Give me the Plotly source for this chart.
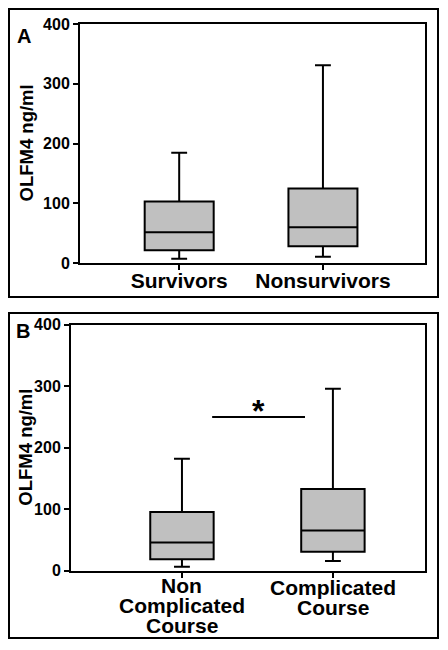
import plotly.graph_objects as go

# Panel A data
groups_a = ["Survivors", "Nonsurvivors"]
a_lower = [7, 10.5]
a_q1 = [21.5, 28]
a_median = [51.5, 60]
a_q3 = [103, 124.5]
a_upper = [184.5, 331]

# Panel B data
groups_b = ["Non Complicated Course", "Complicated Course"]
b_label_lines = [["Non", "Complicated", "Course"], ["Complicated", "Course"]]
b_lower = [6.5, 15.8]
b_q1 = [18.5, 31]
b_median = [46, 65.5]
b_q3 = [95.4, 133]
b_upper = [182, 296]
sig_level = 250
sig_from_to = [0.2, 0.815]

y_ticks = [0, 100, 200, 300, 400]
y_title = "OLFM4 ng/ml"

# page body adds an 8px margin; size the figure so the page is exactly 448x650
OFF = 8
W, H = 448 - 2 * OFF, 650 - 2 * OFF
FONT = "Liberation Sans, Arial, sans-serif"
fill = "#c0c0c0"

fig = go.Figure()

for i, g in enumerate(groups_a):
    fig.add_trace(go.Box(
        x=[g], q1=[a_q1[i]], median=[a_median[i]], q3=[a_q3[i]],
        lowerfence=[a_lower[i]], upperfence=[a_upper[i]],
        fillcolor=fill, line=dict(color="black", width=2),
        width=0.48, whiskerwidth=0.23, boxpoints=False,
        xaxis="x", yaxis="y", showlegend=False, hoverinfo="skip"))

for i, g in enumerate(groups_b):
    fig.add_trace(go.Box(
        x=[g], q1=[b_q1[i]], median=[b_median[i]], q3=[b_q3[i]],
        lowerfence=[b_lower[i]], upperfence=[b_upper[i]],
        fillcolor=fill, line=dict(color="black", width=2),
        width=0.42, whiskerwidth=0.25, boxpoints=False,
        xaxis="x2", yaxis="y2", showlegend=False, hoverinfo="skip"))

def px_x(p):
    return (p - OFF) / W

def px_y(p):
    return 1 - (p - OFF) / H

axis_common = dict(showline=True, linecolor="black", linewidth=2, mirror=True,
                   showgrid=False, zeroline=False, ticks="outside",
                   ticklen=5, tickwidth=2, tickcolor="black", automargin=False)

fig.update_layout(
    template="none",
    width=W, height=H,
    margin=dict(l=0, r=0, t=0, b=0, pad=0, autoexpand=False),
    paper_bgcolor="white", plot_bgcolor="white",
    font=dict(family=FONT, color="black"),
    xaxis=dict(domain=[px_x(80), px_x(425)], anchor="y", type="category",
               categoryorder="array", categoryarray=groups_a,
               range=[-0.69, 1.71], ticklabelstandoff=-7,
               tickfont=dict(size=21, weight="bold", family=FONT), **axis_common),
    yaxis=dict(domain=[px_y(263), px_y(24)], anchor="x", range=[0, 400],
               tickvals=y_ticks,
               tickfont=dict(size=16, weight="bold", family=FONT), **axis_common),
    xaxis2=dict(domain=[px_x(71), px_x(425)], anchor="y2", type="category",
                categoryorder="array", categoryarray=groups_b,
                range=[-0.735, 1.61], showticklabels=False, **axis_common),
    yaxis2=dict(domain=[px_y(570.7), px_y(324.7)], anchor="x2", range=[0, 400],
                tickvals=y_ticks,
                tickfont=dict(size=16, weight="bold", family=FONT), **axis_common),
)

shapes = [
    dict(type="rect", xref="paper", yref="paper", x0=px_x(9), x1=px_x(438),
         y0=px_y(297), y1=px_y(9), line=dict(color="black", width=2)),
    dict(type="rect", xref="paper", yref="paper", x0=px_x(9), x1=px_x(438),
         y0=px_y(638), y1=px_y(313), line=dict(color="black", width=2)),
    dict(type="line", xref="x2", yref="y2", x0=sig_from_to[0], x1=sig_from_to[1],
         y0=sig_level, y1=sig_level, line=dict(color="black", width=2)),
]
fig.update_layout(shapes=shapes)

def label(text, x, y, size, xref="paper", yref="paper", **kw):
    return dict(text=text, x=x, y=y, xref=xref, yref=yref, showarrow=False,
                xanchor="center", yanchor="middle",
                font=dict(size=size, weight="bold", family=FONT), **kw)

ann = [
    label("A", px_x(24), px_y(36), 20),
    label("B", px_x(23), px_y(331), 20),
    label(y_title, px_x(26), px_y(143.5), 18.5, textangle=-90),
    label(y_title, px_x(26), px_y(447.7), 18.5, textangle=-90),
    label("*", sum(sig_from_to) / 2, sig_level + 10, 32, xref="x2", yref="y2"),
]
line_starts = [585, 587]
for i, lines in enumerate(b_label_lines):
    for j, t in enumerate(lines):
        ann.append(label(t, i, px_y(line_starts[i] + 20 * j), 21, xref="x2"))
fig.update_layout(annotations=ann)

fig.write_html("out.html")
